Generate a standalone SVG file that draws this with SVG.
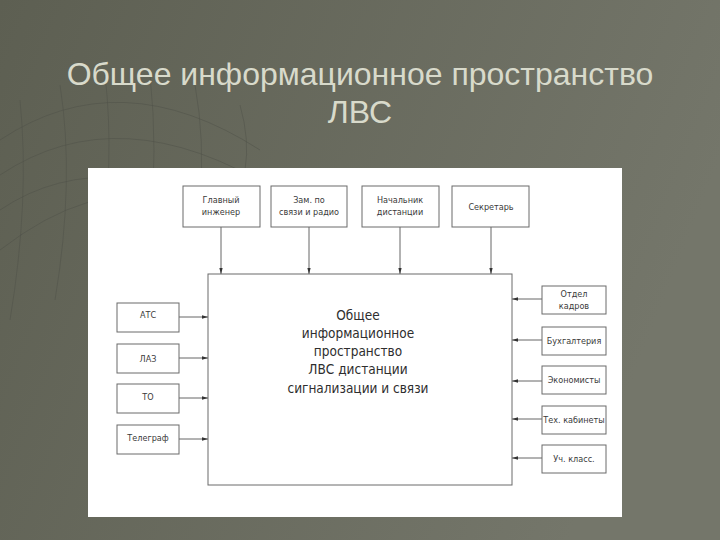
<svg xmlns="http://www.w3.org/2000/svg" width="720" height="540" viewBox="0 0 720 540">
<defs>
<linearGradient id="bg" x1="0" y1="0" x2="1" y2="0.3">
<stop offset="0" stop-color="#5d5f52"/>
<stop offset="1" stop-color="#74766a"/>
</linearGradient>
<marker id="ah" viewBox="0 0 8 6" refX="8" refY="3" markerWidth="6" markerHeight="4.5" orient="auto" markerUnits="userSpaceOnUse">
<path d="M0,0.8 L8,3 L0,5.2 Z" fill="#333"/>
</marker>
<style>
.box{fill:#fff;stroke:#6a6a6a;stroke-width:1}
.lbl{font-family:"DejaVu Sans Condensed","Liberation Sans Narrow","Liberation Sans",sans-serif;font-size:9px;fill:#3a3a3a;text-anchor:middle}
.ctr{font-family:"DejaVu Sans Condensed","Liberation Sans Narrow","Liberation Sans",sans-serif;font-size:13.5px;fill:#2e2e2e;text-anchor:middle}
.con{stroke:#555;stroke-width:0.9;fill:none;marker-end:url(#ah)}
.grid{stroke:#4f5147;stroke-width:0.8;fill:none;opacity:0.6}
.title{font-family:"Liberation Sans",Arial,sans-serif;font-size:32px;fill:#d8dacb;text-anchor:middle}
</style>
</defs>
<rect width="720" height="540" fill="url(#bg)"/>
<g id="decor">
<path class="grid" d="M0,140 Q120,60 260,150"/>
<path class="grid" d="M0,175 Q120,95 275,190"/>
<path class="grid" d="M0,210 Q110,135 285,230"/>
<path class="grid" d="M0,250 Q90,180 170,200"/>
<path class="grid" d="M20,100 Q30,200 10,320"/>
<path class="grid" d="M60,85 Q75,180 55,300"/>
<path class="grid" d="M105,75 Q115,160 100,260"/>
<path class="grid" d="M150,75 Q158,150 150,230"/>
<path class="grid" d="M195,85 Q205,140 200,200"/>
<path class="grid" d="M240,105 Q250,140 245,170"/>
</g>
<g id="title">
<text class="title" x="360" y="85">Общее информационное пространство</text>
<text class="title" x="360" y="123">ЛВС</text>
</g>
<rect id="panel" x="88" y="168" width="534" height="349" fill="#fff"/>
<g id="connectors">
<line class="con" x1="221" y1="227" x2="221" y2="274"/>
<line class="con" x1="309" y1="227" x2="309" y2="274"/>
<line class="con" x1="400" y1="227" x2="400" y2="274"/>
<line class="con" x1="491" y1="227" x2="491" y2="274"/>
<line class="con" x1="179" y1="317" x2="208" y2="317"/>
<line class="con" x1="179" y1="358" x2="208" y2="358"/>
<line class="con" x1="179" y1="398" x2="208" y2="398"/>
<line class="con" x1="179" y1="439" x2="208" y2="439"/>
<line class="con" x1="542" y1="299" x2="512" y2="299"/>
<line class="con" x1="542" y1="340" x2="512" y2="340"/>
<line class="con" x1="542" y1="381" x2="512" y2="381"/>
<line class="con" x1="542" y1="419" x2="512" y2="419"/>
<line class="con" x1="542" y1="458" x2="512" y2="458"/>
</g>
<g id="main">
<rect class="box" x="208" y="274" width="304" height="211"/>
<text class="ctr" x="358" y="320">Общее</text>
<text class="ctr" x="358" y="338">информационное</text>
<text class="ctr" x="358" y="356">пространство</text>
<text class="ctr" x="358" y="374">ЛВС дистанции</text>
<text class="ctr" x="358" y="393">сигнализации и связи</text>
</g>
<g id="glav"><rect class="box" x="183" y="186" width="77" height="41"/><text class="lbl" x="221" y="203">Главный</text><text class="lbl" x="221" y="215">инженер</text></g>
<g id="zam"><rect class="box" x="271" y="186" width="76" height="41"/><text class="lbl" x="309" y="203">Зам. по</text><text class="lbl" x="309" y="215">связи и радио</text></g>
<g id="nach"><rect class="box" x="362" y="186" width="77" height="41"/><text class="lbl" x="400" y="203">Начальник</text><text class="lbl" x="400" y="215">дистанции</text></g>
<g id="sekr"><rect class="box" x="452" y="186" width="77" height="41"/><text class="lbl" x="491" y="210">Секретарь</text></g>
<g id="ats"><rect class="box" x="117" y="303" width="62" height="29"/><text class="lbl" x="148" y="318">АТС</text></g>
<g id="laz"><rect class="box" x="117" y="344" width="62" height="29"/><text class="lbl" x="148" y="362">ЛАЗ</text></g>
<g id="to"><rect class="box" x="117" y="384" width="62" height="29"/><text class="lbl" x="148" y="400">ТО</text></g>
<g id="teleg"><rect class="box" x="117" y="425" width="62" height="29"/><text class="lbl" x="148" y="441">Телеграф</text></g>
<g id="kadr"><rect class="box" x="542" y="286" width="64" height="28"/><text class="lbl" x="574" y="297">Отдел</text><text class="lbl" x="574" y="309">кадров</text></g>
<g id="buh"><rect class="box" x="542" y="327" width="64" height="28"/><text class="lbl" x="574" y="344">Бухгалтерия</text></g>
<g id="econ"><rect class="box" x="542" y="366" width="64" height="28"/><text class="lbl" x="574" y="383">Экономисты</text></g>
<g id="teh"><rect class="box" x="542" y="406" width="64" height="28"/><text class="lbl" x="574" y="423">Тех. кабинеты</text></g>
<g id="uch"><rect class="box" x="542" y="445" width="64" height="28"/><text class="lbl" x="574" y="462">Уч. класс.</text></g>
</svg>
